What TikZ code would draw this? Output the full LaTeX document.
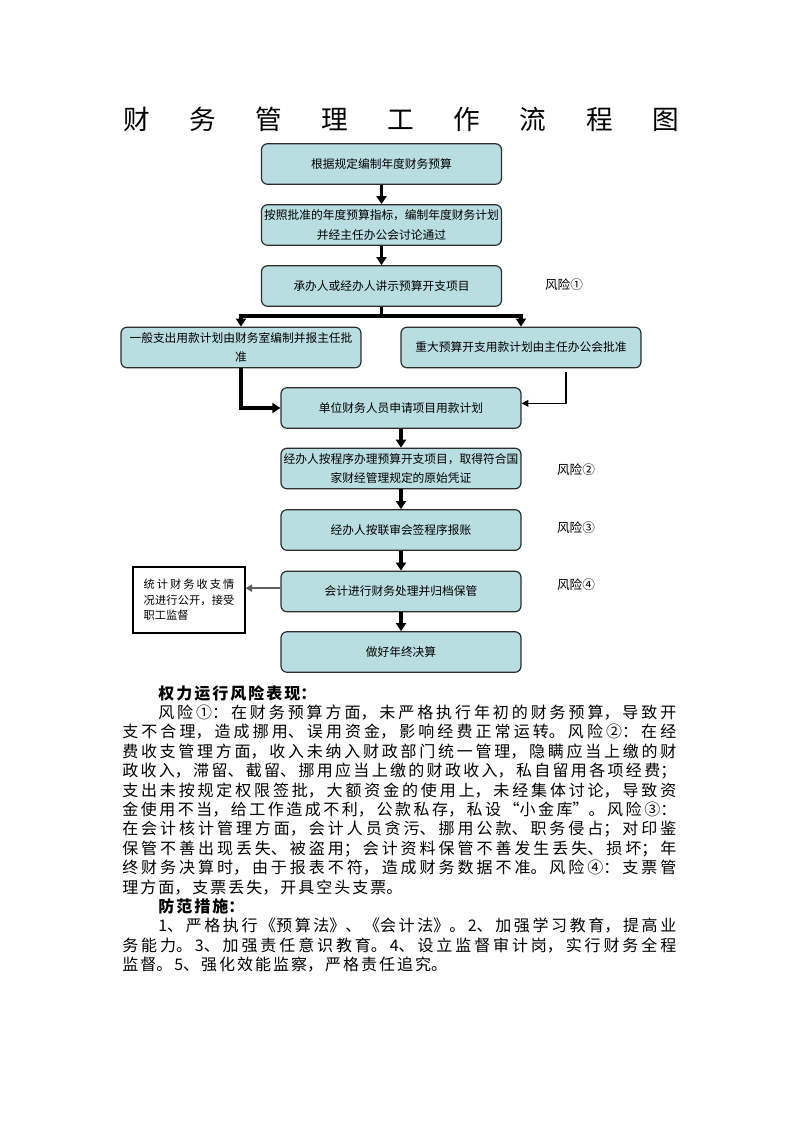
\documentclass[tikz,border=0pt]{standalone}
\usepackage{fontspec}
\setmainfont{Noto Sans CJK SC}
\usetikzlibrary{arrows.meta}

\XeTeXlinebreaklocale "zh"
\XeTeXlinebreakskip=0pt plus 3pt

\definecolor{boxfill}{RGB}{185,222,225}
\definecolor{boxline}{RGB}{45,45,45}
\definecolor{notegray}{RGB}{95,95,95}

\newcommand{\flowfont}{\fontsize{8.8pt}{14.6pt}\selectfont}
\newcommand{\riskfont}{\fontsize{9.5pt}{12pt}\selectfont}
\newcommand{\notefont}{\fontsize{8.4pt}{11.6pt}\selectfont}
\newcommand{\titlefont}{\fontsize{20pt}{24pt}\selectfont}
\newcommand{\bodyfont}{\fontsize{12pt}{14.55pt}\selectfont\XeTeXlinebreakskip=1.5pt plus 2pt minus 1pt}

\begin{document}
\begin{tikzpicture}[x=0.75pt,y=-0.75pt,
  flow node/.style={rectangle,rounded corners=4.5pt,draw=boxline,fill=boxfill,line width=0.9pt,
    minimum width=180pt,minimum height=30.4pt,inner sep=1pt,align=center,font=\flowfont},
  risk node/.style={font=\riskfont},
  note node/.style={rectangle,draw,line width=0.8pt,text width=68pt,inner xsep=8pt,
    minimum height=49.5pt,align=justify,font=\notefont},
  main arrow/.style={line width=2.4pt,-{Triangle[length=6pt,width=7.5pt]}},
  thin arrow/.style={line width=0.8pt,-{Triangle[length=5pt,width=5pt]}},
  gray arrow/.style={line width=1.4pt,draw=notegray,-{Triangle[length=5pt,width=5.5pt]}}]

  \useasboundingbox (0,0) rectangle (793,1122);

  % title
  \node (title) at (401,119) {\titlefont\makebox[417pt][s]{财\hfill 务\hfill 管\hfill 理\hfill 工\hfill 作\hfill 流\hfill 程\hfill 图}};

  % flow boxes
  \node[flow node] (n1) at (381.5,164) {根据规定编制年度财务预算};
  \node[flow node] (n2) at (381.5,225) {按照批准的年度预算指标，编制年度财务计划\\并经主任办公会讨论通过};
  \node[flow node] (n3) at (381.5,286) {承办人或经办人讲示预算开支项目};
  \node[flow node] (n4) at (241,347.5) {一般支出用款计划由财务室编制并报主任批\\准};
  \node[flow node] (n5) at (521,347.5) {重大预算开支用款计划由主任办公会批准};
  \node[flow node] (n6) at (401,408) {单位财务人员申请项目用款计划};
  \node[flow node] (n7) at (401,468.5) {经办人按程序办理预算开支项目，取得符合国\\家财经管理规定的原始凭证};
  \node[flow node] (n8) at (401,530) {经办人按联审会签程序报账};
  \node[flow node] (n9) at (401,591.5) {会计进行财务处理并归档保管};
  \node[flow node] (n10) at (401,652) {做好年终决算};
  \node[note node] (note) at (189,600) {统计财务收支情\linebreak 况进行公开，接受\linebreak 职工监督};

  % risks
  \node[risk node] (r1) at (564,285) {风险①};
  \node[risk node] (r2) at (576,470) {风险②};
  \node[risk node] (r3) at (576,528) {风险③};
  \node[risk node] (r4) at (576,585) {风险④};

  \coordinate (split) at (381.5,316);
  \coordinate (back) at (566,372);

  \path (n1) [main arrow] edge (n2);
  \path (n2) [main arrow] edge (n3);
  \draw[line width=2.4pt] (n3.south) -- (split);
  \draw[main arrow] (split) -| (n4.north);
  \draw[main arrow] (split) -| (n5.north);
  \draw[main arrow] (n4.south) |- (n6.west);
  \draw[thin arrow] (back) |- ([yshift=3.5pt]n6.east);
  \path (n6) [main arrow] edge (n7);
  \path (n7) [main arrow] edge (n8);
  \path (n8) [main arrow] edge (n9);
  \path (n9) [main arrow] edge (n10);
  \draw[gray arrow] ([yshift=2.5pt]n9.west) -- ([yshift=2.5pt]n9.west -| note.east);

  % risk text
  \node[anchor=base west,inner sep=0pt,text width=415.5pt,align=justify,font=\bodyfont] (risktext) at (122,699) {%
\hspace*{27pt}{\bfseries 权力运行风险表现：}\par
\hspace*{27pt}风险①：在财务预算方面，未严格执行年初的财务预算，导致开\linebreak
支不合理，造成挪用、误用资金，影响经费正常运转。风险②：在经\linebreak
费收支管理方面，收入未纳入财政部门统一管理，隐瞒应当上缴的财\linebreak
政收入，滞留、截留、挪用应当上缴的财政收入，私自留用各项经费；\linebreak
支出未按规定权限签批，大额资金的使用上，未经集体讨论，导致资\linebreak
金使用不当，给工作造成不利，公款私存，私设“小金库”。风险③：\linebreak
在会计核计管理方面，会计人员贪污、挪用公款、职务侵占；对印鉴\linebreak
保管不善出现丢失、被盗用；会计资料保管不善发生丢失、损坏；年\linebreak
终财务决算时，由于报表不符，造成财务数据不准。风险④：支票管\linebreak
理方面，支票丢失，开具空头支票。\par
\hspace*{27pt}{\bfseries 防范措施：}\par
\hspace*{27pt}1、严格执行《预算法》、《会计法》。2、加强学习教育，提高业\linebreak
务能力。3、加强责任意识教育。4、设立监督审计岗，实行财务全程\linebreak
监督。5、强化效能监察，严格责任追究。};
\end{tikzpicture}
\end{document}
